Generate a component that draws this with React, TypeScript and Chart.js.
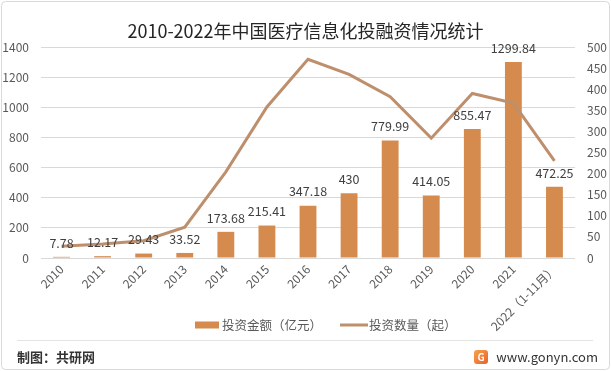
import React, { useEffect, useRef } from 'react';
import { Chart, registerables } from 'chart.js';

Chart.register(...registerables);

const FONT = '"Noto Sans CJK SC", "Noto Sans", sans-serif';

const titleText = '2010-2022年中国医疗信息化投融资情况统计';
const categories = ['2010', '2011', '2012', '2013', '2014', '2015', '2016', '2017', '2018', '2019', '2020', '2021', '2022（1-11月）'];
const investAmount = [7.78, 12.17, 29.43, 33.52, 173.68, 215.41, 347.18, 430, 779.99, 414.05, 855.47, 1299.84, 472.25];
const investCount = [28, 33, 41, 73, 204, 358, 471, 435, 382, 284, 390, 367, 230];
const amountLabel = '投资金额（亿元）';
const countLabel = '投资数量（起）';
const leftAxisMax = 1400;
const leftAxisStep = 200;
const rightAxisMax = 500;
const rightAxisStep = 50;
const footerLeft = '制图：共研网';
const footerRight = 'www.gonyn.com';

const BAR_COLOR = '#D48B4D';
const LINE_COLOR = '#BE8F6C';

const decorPlugin = {
  id: 'decor',
  beforeDraw(chart: any) {
    const ctx = chart.ctx;
    const w = chart.width;
    const h = chart.height;
    ctx.save();
    ctx.fillStyle = '#ffffff';
    ctx.fillRect(0, 0, w, h);
    ctx.strokeStyle = '#D9D9D9';
    ctx.lineWidth = 1;
    ctx.beginPath();
    ctx.roundRect ? ctx.roundRect(1.5, 1.5, w - 3, h - 3, 4) : ctx.rect(1.5, 1.5, w - 3, h - 3);
    ctx.stroke();
    // title
    ctx.fillStyle = '#262626';
    ctx.font = `18px ${FONT}`;
    ctx.textAlign = 'center';
    ctx.textBaseline = 'middle';
    ctx.fillText(titleText, w / 2, 31);
    ctx.restore();
  },
  afterDatasetsDraw(chart: any) {
    const ctx = chart.ctx;
    const meta = chart.getDatasetMeta(1);
    ctx.save();
    ctx.fillStyle = '#404040';
    ctx.font = `12.5px ${FONT}`;
    ctx.textAlign = 'center';
    ctx.textBaseline = 'middle';
    meta.data.forEach((el: any, i: number) => {
      ctx.fillText(String(investAmount[i]), el.x, el.y - 14);
    });
    ctx.restore();
  },
  afterDraw(chart: any) {
    const ctx = chart.ctx;
    ctx.save();
    // legend
    ctx.font = `12.5px ${FONT}`;
    ctx.textBaseline = 'middle';
    ctx.textAlign = 'left';
    const ly = 325;
    ctx.fillStyle = BAR_COLOR;
    ctx.fillRect(195, ly - 3.5, 24, 7);
    ctx.fillStyle = '#595959';
    ctx.fillText(amountLabel, 222, ly);
    ctx.strokeStyle = LINE_COLOR;
    ctx.lineWidth = 3;
    ctx.beginPath();
    ctx.moveTo(340, ly);
    ctx.lineTo(368, ly);
    ctx.stroke();
    ctx.fillText(countLabel, 369, ly);
    // separator
    ctx.strokeStyle = '#E3E3E3';
    ctx.lineWidth = 1;
    ctx.beginPath();
    ctx.moveTo(17, 340.5);
    ctx.lineTo(593, 340.5);
    ctx.stroke();
    // footer
    ctx.fillStyle = '#333333';
    ctx.font = `bold 13px ${FONT}`;
    ctx.fillText(footerLeft, 17, 357);
    ctx.font = `13px ${FONT}`;
    ctx.textAlign = 'right';
    ctx.fillText(footerRight, 598, 357);
    // logo
    const lx = 474, lyy = 350, ls = 14;
    const grad = ctx.createLinearGradient(lx, lyy, lx + ls, lyy + ls);
    grad.addColorStop(0, '#F7A24B');
    grad.addColorStop(1, '#E8612C');
    ctx.fillStyle = grad;
    ctx.beginPath();
    ctx.roundRect ? ctx.roundRect(lx, lyy, ls, ls, 3) : ctx.rect(lx, lyy, ls, ls);
    ctx.fill();
    ctx.fillStyle = '#ffffff';
    ctx.font = `bold 10px ${FONT}`;
    ctx.textAlign = 'center';
    ctx.fillText('G', lx + ls / 2, lyy + ls / 2 + 0.5);
    ctx.restore();
  },
};

export default function App() {
  const ref = useRef<HTMLCanvasElement | null>(null);
  useEffect(() => {
    if (!ref.current) return;
    const chart = new Chart(ref.current, {
      type: 'bar',
      data: {
        labels: categories,
        datasets: [
          {
            type: 'line',
            label: countLabel,
            data: investCount,
            yAxisID: 'y1',
            borderColor: LINE_COLOR,
            backgroundColor: LINE_COLOR,
            borderWidth: 3,
            pointRadius: 0,
            tension: 0,
            order: 0,
          } as any,
          {
            type: 'bar',
            label: amountLabel,
            data: investAmount,
            yAxisID: 'y',
            backgroundColor: BAR_COLOR,
            barPercentage: 0.41,
            categoryPercentage: 1,
            order: 1,
          },
        ],
      },
      options: {
        animation: false,
        responsive: true,
        maintainAspectRatio: false,
        layout: { padding: { top: 47, left: 0, right: 0, bottom: 0 } },
        plugins: {
          legend: { display: false },
          title: { display: false },
          tooltip: { enabled: false },
        },
        scales: {
          x: {
            grid: { display: false, drawTicks: false },
            border: { display: false },
            ticks: {
              color: '#595959',
              font: { family: FONT, size: 12 },
              minRotation: 45,
              maxRotation: 45,
              autoSkip: false,
              padding: 4,
            },
            afterFit(scale: any) {
              scale.height = 113;
              scale.paddingLeft = 0;
              scale.paddingRight = 0;
            },
          },
          y: {
            position: 'left',
            min: 0,
            max: leftAxisMax,
            grid: { color: '#D9D9D9', drawTicks: false },
            border: { display: false },
            ticks: {
              stepSize: leftAxisStep,
              color: '#595959',
              font: { family: FONT, size: 12 },
              padding: 12,
              callback: (v: any) => String(v),
            },
            afterFit(scale: any) {
              scale.width = 41;
            },
          },
          y1: {
            position: 'right',
            min: 0,
            max: rightAxisMax,
            grid: { drawOnChartArea: false, drawTicks: false },
            border: { display: false },
            ticks: {
              stepSize: rightAxisStep,
              color: '#595959',
              font: { family: FONT, size: 12 },
              padding: 12,
              callback: (v: any) => String(v),
            },
            afterFit(scale: any) {
              scale.width = 36;
            },
          },
        },
      },
      plugins: [decorPlugin],
    });
    return () => chart.destroy();
  }, []);
  return (
    <div style={{ position: 'absolute', left: 0, top: 0, width: 611, height: 371 }}>
      <canvas ref={ref} />
    </div>
  );
}
